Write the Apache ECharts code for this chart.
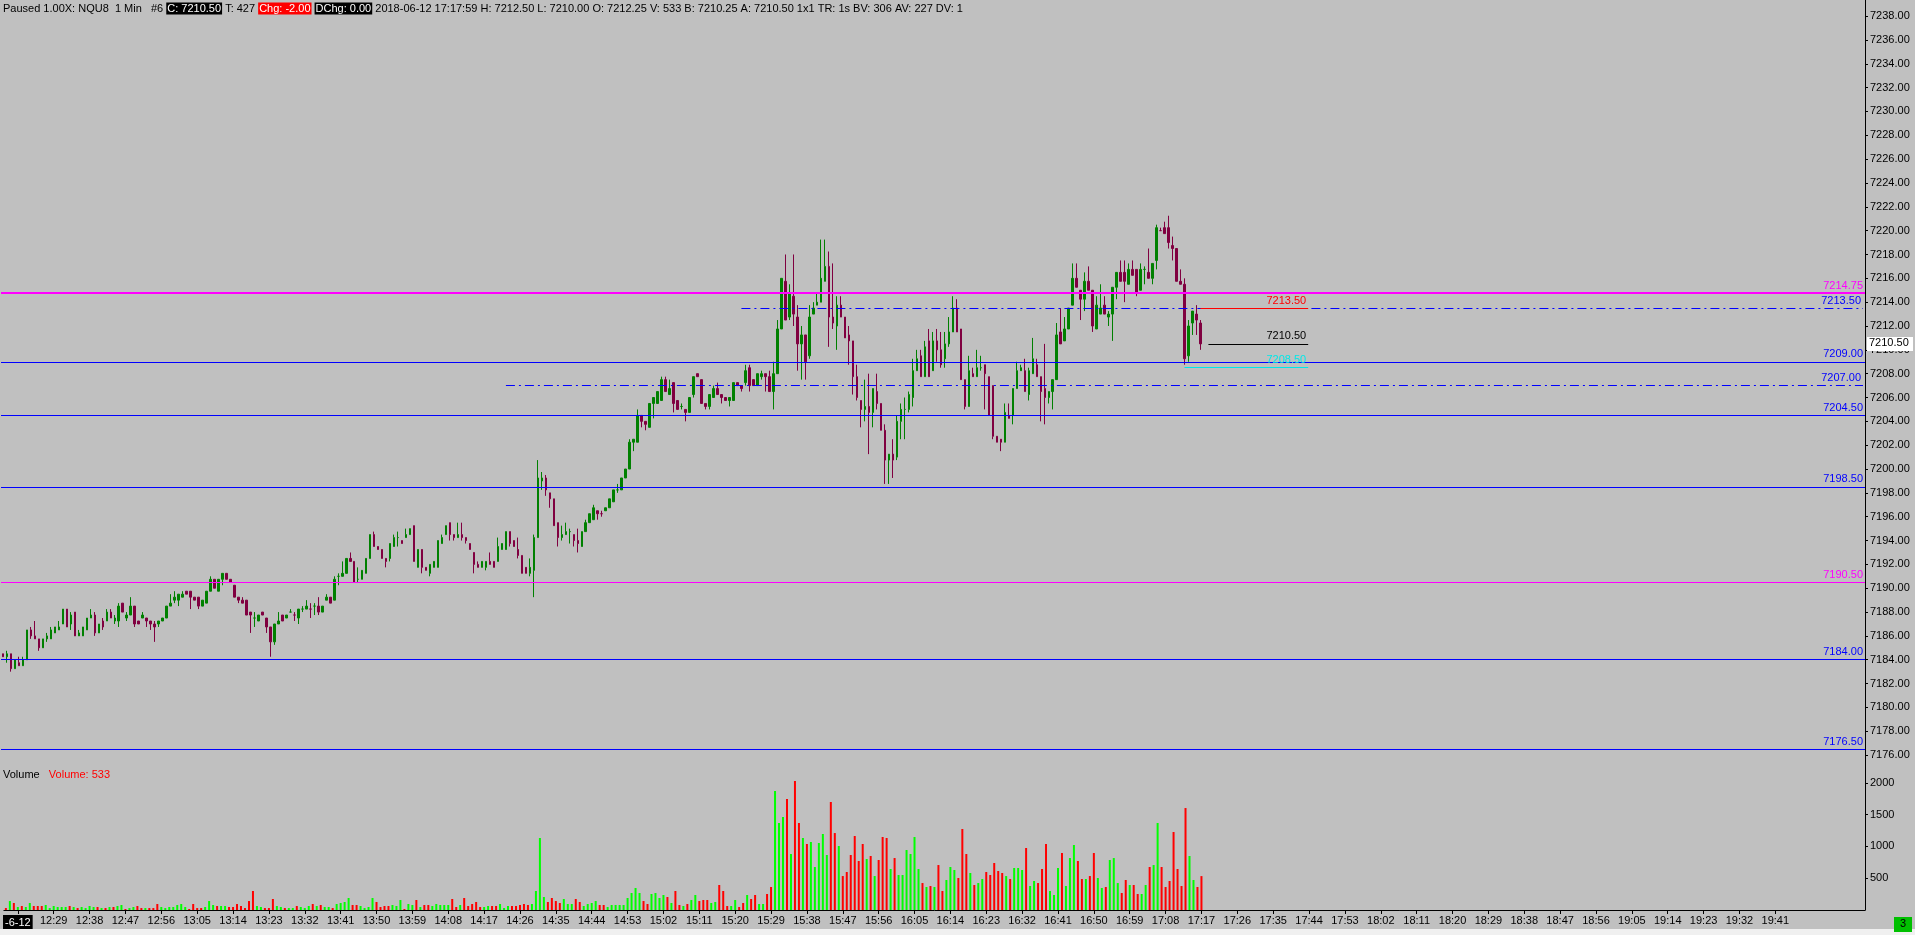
<!DOCTYPE html>
<html><head><meta charset="utf-8">
<script src="https://cdn.jsdelivr.net/npm/echarts@6/dist/echarts.min.js"></script>
<style>html,body{margin:0;padding:0;background:#c0c0c0;overflow:hidden}#c{width:1915px;height:935px}</style>
</head><body><div id="c"></div><script>
// ---------- DATA ----------
const firstBar = '12:17';
const slotCount = 467;
const opens = [
7184.5,7184.25,7184.5,7183.25,7183.75,7183.5,7184.0,7186.5,7186.0,7185.75,
7185.0,7185.75,7185.75,7186.25,7186.5,7187.0,7188.25,7187.0,7188.0,7186.0,
7186.0,7186.5,7187.5,7187.75,7186.25,7187.25,7187.25,7188.0,7187.25,7187.25,
7188.75,7187.5,7187.75,7188.5,7187.25,7187.5,7187.5,7187.25,7187.0,7187.0,
7187.25,7187.5,7188.5,7189.0,7189.0,7189.25,7189.75,7189.75,7189.25,7189.25,
7188.5,7188.75,7189.75,7190.75,7189.75,7190.75,7191.25,7190.75,7190.25,7189.25,
7189.0,7189.0,7188.0,7187.5,7187.25,7188.0,7187.5,7186.75,7185.5,7187.0,
7187.75,7187.5,7188.0,7187.75,7187.5,7188.25,7188.25,7188.25,7188.5,7188.5,
7188.0,7189.0,7189.25,7189.0,7191.0,7191.0,7191.25,7192.5,7192.25,7190.75,
7190.75,7191.25,7192.5,7194.5,7193.5,7193.25,7192.5,7192.5,7193.5,7194.25,
7194.0,7194.25,7194.5,7195.25,7191.75,7193.25,7191.75,7191.25,7191.75,7191.75,
7193.75,7194.5,7195.5,7194.5,7194.25,7194.5,7194.25,7193.75,7193.0,7192.0,
7191.75,7191.75,7192.25,7192.25,7192.25,7193.25,7193.25,7194.75,7194.0,7193.25,
7192.75,7191.75,7191.25,7191.5,7194.25,7199.0,7199.25,7198.0,7197.5,7195.5,
7194.25,7194.5,7194.75,7194.5,7194.0,7193.5,7194.75,7195.5,7195.75,7196.5,
7196.25,7196.5,7196.75,7197.25,7198.25,7198.25,7199.25,7200.0,7202.25,7202.25,
7204.5,7204.0,7203.5,7205.5,7205.5,7205.75,7207.5,7206.25,7207.25,7205.75,
7205.25,7205.0,7204.75,7206.25,7208.0,7207.5,7205.5,7205.25,7206.0,7206.75,
7206.25,7206.0,7205.75,7205.75,7207.25,7207.0,7207.25,7208.5,7207.5,7207.0,
7207.75,7208.0,7207.75,7206.5,7208.0,7211.75,7215.75,7212.75,7214.5,7212.75,
7210.5,7211.25,7209.5,7213.0,7213.75,7214.0,7215.75,7217.0,7212.75,7212.0,
7213.75,7212.75,7211.25,7210.75,7207.75,7205.75,7205.0,7205.25,7204.75,7206.5,
7205.5,7203.25,7200.75,7201.25,7201.0,7204.0,7205.0,7205.0,7206.0,7208.25,
7209.5,7207.75,7210.75,7208.25,7210.75,7210.0,7209.25,7210.5,7211.5,7213.5,
7211.75,7207.5,7205.25,7208.0,7207.75,7208.5,7208.75,7207.75,7207.0,7202.75,
7202.5,7202.25,7204.5,7204.5,7206.75,7208.25,7208.25,7206.25,7208.0,7208.75,
7207.75,7206.75,7206.0,7206.5,7207.5,7211.5,7210.75,7211.75,7213.75,7216.0,
7215.0,7214.25,7215.75,7215.0,7211.75,7213.0,7213.75,7212.75,7213.0,7215.25,
7216.5,7216.5,7215.5,7216.75,7216.75,7215.0,7216.75,7216.5,7216.0,7217.5,
7220.0,7220.25,7220.25,7218.75,7218.5,7215.75,7215.5,7209.5,7212.25,7213.0,
7212.25];
const closes = [
7184.25,7184.5,7183.25,7184.0,7183.5,7184.0,7186.5,7186.0,7185.75,7185.0,
7185.75,7186.0,7186.5,7186.75,7186.75,7188.25,7186.75,7187.75,7186.0,7186.25,
7186.75,7187.5,7187.75,7186.25,7187.0,7186.75,7188.0,7187.5,7187.5,7188.5,
7188.0,7187.75,7188.5,7187.0,7187.0,7187.75,7187.25,7187.0,7186.75,7187.25,
7187.5,7188.5,7188.75,7189.25,7189.5,7189.5,7189.5,7189.25,7189.0,7188.5,
7189.0,7189.75,7190.75,7190.0,7190.75,7191.25,7190.75,7190.5,7189.25,7189.0,
7188.75,7187.75,7187.75,7187.5,7187.75,7187.75,7186.75,7185.5,7187.0,7187.25,
7187.25,7187.75,7188.0,7187.75,7188.25,7188.25,7188.5,7188.25,7188.5,7188.0,
7188.5,7189.25,7188.75,7190.75,7191.0,7191.25,7192.5,7192.25,7190.5,7190.75,
7191.5,7192.5,7194.5,7193.5,7193.25,7192.5,7192.25,7193.75,7194.25,7194.25,
7193.75,7194.5,7195.0,7192.25,7193.25,7191.75,7191.5,7192.0,7192.25,7194.0,
7194.25,7195.25,7194.5,7194.25,7194.5,7194.25,7194.0,7193.25,7192.0,7191.75,
7192.25,7192.25,7192.0,7191.75,7193.5,7193.75,7194.75,7193.75,7193.5,7192.75,
7191.25,7191.25,7191.75,7194.25,7199.25,7199.25,7198.25,7197.5,7195.25,7194.25,
7194.5,7194.75,7194.75,7194.0,7193.75,7194.75,7195.5,7196.25,7196.75,7196.25,
7196.25,7196.75,7197.5,7198.25,7198.25,7199.25,7200.0,7202.25,7202.5,7204.5,
7204.0,7203.75,7205.5,7206.0,7206.5,7207.5,7206.5,7206.75,7205.5,7205.0,
7205.25,7204.75,7206.0,7207.75,7207.75,7205.5,7205.25,7206.25,7206.75,7206.25,
7206.0,7205.75,7206.0,7207.25,7207.0,7206.75,7208.25,7207.0,7207.0,7208.0,
7208.0,7207.75,7206.5,7208.0,7211.75,7216.0,7212.5,7214.75,7213.0,7210.5,
7211.25,7209.0,7212.75,7213.5,7214.0,7216.0,7217.0,7212.75,7212.25,7213.75,
7212.75,7211.0,7210.75,7207.75,7206.0,7205.0,7205.25,7204.75,7206.75,7205.5,
7203.25,7200.75,7201.25,7200.75,7204.0,7205.0,7205.0,7206.25,7208.25,7209.25,
7207.75,7210.25,7207.75,7210.75,7210.0,7208.75,7210.5,7211.5,7213.5,7211.5,
7207.5,7205.25,7208.25,7207.75,7208.5,7208.5,7208.0,7204.5,7202.75,7202.25,
7202.25,7204.75,7204.25,7206.75,7208.25,7208.5,7206.5,7208.25,7209.25,7207.75,
7206.5,7206.0,7206.5,7207.5,7211.25,7210.5,7211.75,7213.5,7216.0,7215.25,
7214.25,7215.75,7215.0,7212.0,7213.75,7213.5,7213.0,7213.0,7215.25,7216.5,
7215.75,7215.75,7216.75,7216.25,7214.75,7216.75,7216.75,7216.0,7217.25,7220.25,
7220.0,7219.75,7219.0,7218.5,7215.75,7215.5,7209.25,7212.0,7213.25,7212.5,
7210.5];
const lows = [
7184.25,7183.75,7183.0,7183.25,7183.5,7183.5,7184.0,7185.75,7185.75,7184.75,
7185.0,7185.5,7185.75,7186.25,7186.5,7187.0,7186.75,7186.5,7186.0,7186.0,
7186.0,7186.5,7187.5,7186.0,7186.25,7186.5,7187.25,7187.5,7187.0,7186.75,
7188.0,7187.25,7187.75,7186.75,7187.0,7187.5,7186.75,7186.5,7185.5,7186.75,
7187.25,7187.5,7188.5,7188.75,7188.5,7189.25,7189.5,7188.25,7189.0,7188.25,
7188.5,7188.75,7189.75,7190.0,7189.75,7190.25,7190.75,7190.5,7189.25,7188.75,
7188.75,7187.75,7186.25,7186.75,7187.25,7187.75,7186.25,7184.25,7185.25,7187.0,
7187.25,7187.5,7188.0,7187.25,7187.0,7188.0,7188.25,7187.5,7187.75,7187.75,
7188.0,7189.0,7188.75,7189.0,7190.25,7191.0,7191.25,7192.25,7190.5,7190.5,
7190.75,7191.25,7192.5,7193.5,7193.25,7192.5,7191.75,7192.25,7193.5,7193.5,
7193.75,7194.25,7194.5,7192.25,7191.75,7191.25,7191.5,7191.0,7191.75,7191.75,
7193.75,7194.5,7194.0,7194.0,7194.25,7194.0,7193.75,7193.25,7191.25,7191.75,
7191.75,7191.5,7192.0,7191.75,7192.25,7193.25,7193.25,7193.5,7193.5,7192.5,
7191.25,7191.25,7191.0,7189.25,7194.25,7198.25,7197.75,7196.75,7195.25,7193.5,
7194.0,7194.5,7193.75,7193.5,7193.0,7193.5,7194.75,7195.5,7195.75,7195.75,
7196.0,7196.5,7196.75,7197.25,7198.0,7198.25,7199.25,7200.0,7201.5,7202.25,
7203.5,7203.25,7203.5,7204.25,7205.5,7205.75,7206.5,7206.25,7204.75,7205.0,
7205.0,7204.0,7204.75,7206.0,7207.75,7205.5,7205.0,7205.0,7206.0,7206.25,
7205.5,7205.75,7205.25,7205.75,7207.0,7206.5,7207.0,7206.5,7207.0,7207.0,
7207.5,7206.5,7206.5,7205.0,7208.0,7211.75,7212.5,7212.5,7212.0,7208.25,
7207.5,7207.5,7209.25,7213.0,7213.75,7214.0,7215.75,7210.25,7211.75,7210.0,
7212.75,7211.0,7208.75,7206.25,7205.75,7203.5,7204.0,7201.25,7203.5,7205.0,
7203.25,7198.75,7198.75,7199.25,7200.75,7202.5,7202.5,7204.75,7205.25,7208.25,
7207.75,7207.75,7207.75,7208.25,7209.0,7208.5,7208.5,7210.25,7211.5,7211.5,
7207.5,7205.0,7205.25,7207.75,7207.75,7208.25,7205.0,7204.5,7202.5,7202.25,
7201.5,7202.25,7204.25,7203.75,7206.75,7208.25,7206.5,7205.75,7208.0,7207.75,
7204.0,7203.75,7205.5,7205.0,7207.5,7210.5,7210.75,7211.75,7213.75,7215.25,
7212.5,7213.25,7215.0,7211.5,7211.75,7213.0,7213.0,7212.0,7210.75,7214.25,
7215.75,7214.0,7215.5,7216.25,7214.5,7215.0,7215.5,7216.0,7215.5,7216.75,
7220.0,7219.75,7218.5,7217.5,7215.75,7215.5,7208.75,7209.0,7211.25,7211.25,
7210.0];
const highs = [
7184.5,7184.75,7184.5,7184.0,7184.25,7184.25,7186.5,7186.75,7187.25,7185.75,
7185.75,7186.25,7186.75,7186.75,7187.25,7188.25,7188.25,7188.0,7188.0,7186.5,
7186.75,7187.5,7188.25,7188.0,7187.0,7187.5,7188.25,7188.25,7187.75,7188.75,
7188.75,7188.0,7189.25,7188.5,7187.25,7188.0,7187.5,7187.25,7187.25,7187.25,
7187.5,7188.5,7189.5,7189.75,7189.5,7189.75,7189.75,7189.75,7189.25,7189.25,
7189.0,7189.75,7191.0,7190.75,7190.75,7191.25,7191.25,7190.75,7190.25,7189.25,
7189.25,7189.0,7188.0,7188.0,7187.75,7188.0,7187.5,7186.75,7187.0,7188.0,
7187.75,7187.75,7188.25,7188.0,7188.25,7188.5,7189.0,7188.75,7188.75,7189.25,
7188.5,7189.5,7189.25,7191.0,7191.25,7192.25,7192.5,7193.0,7192.25,7191.75,
7191.5,7192.5,7194.5,7194.75,7193.5,7193.25,7192.5,7193.75,7194.5,7194.75,
7194.0,7195.0,7195.0,7195.25,7193.25,7193.25,7191.75,7192.0,7192.25,7194.0,
7194.5,7195.25,7195.5,7194.5,7195.5,7195.5,7194.25,7193.75,7193.0,7192.25,
7192.25,7192.25,7193.0,7192.25,7194.25,7193.75,7194.75,7194.75,7194.0,7194.25,
7192.75,7191.75,7192.5,7194.5,7200.75,7199.75,7199.5,7198.0,7197.5,7195.5,
7195.25,7195.5,7195.0,7194.5,7195.0,7194.75,7195.75,7196.25,7197.0,7196.5,
7196.5,7196.75,7197.5,7198.25,7198.75,7199.25,7200.0,7202.5,7202.5,7205.0,
7204.5,7204.0,7205.5,7206.0,7206.5,7207.75,7207.75,7207.5,7207.25,7205.75,
7205.5,7205.0,7206.0,7207.75,7208.0,7207.5,7205.5,7206.25,7207.0,7207.25,
7206.25,7206.0,7206.0,7207.25,7207.25,7207.0,7208.75,7208.75,7207.5,7208.0,
7208.25,7208.0,7208.25,7209.0,7212.5,7216.0,7218.0,7215.5,7218.0,7213.75,
7212.0,7211.25,7213.75,7214.0,7214.75,7219.25,7219.25,7218.25,7217.25,7214.5,
7214.5,7212.75,7212.0,7210.75,7208.75,7205.75,7207.5,7208.0,7206.75,7208.0,
7205.5,7203.75,7201.25,7202.5,7204.5,7205.5,7206.0,7206.5,7209.25,7210.0,
7210.0,7210.75,7211.75,7211.5,7211.75,7211.5,7211.5,7212.75,7214.5,7214.25,
7211.75,7207.5,7209.5,7208.5,7210.0,7209.5,7208.75,7207.75,7207.0,7202.75,
7202.5,7205.5,7205.5,7206.75,7209.0,7208.75,7209.25,7208.5,7211.0,7209.25,
7207.75,7210.5,7206.5,7207.5,7212.25,7213.5,7212.75,7213.5,7217.25,7217.25,
7215.0,7216.5,7217.0,7215.0,7214.5,7215.5,7214.5,7213.25,7215.25,7216.5,
7217.5,7217.5,7217.25,7217.5,7216.75,7217.25,7217.0,7218.5,7217.25,7220.5,
7220.25,7220.75,7221.25,7219.5,7218.5,7216.75,7216.0,7212.5,7213.25,7213.75,
7212.5];
const volumes = [
31,141,110,47,63,47,110,63,63,63,
79,31,63,47,47,47,63,47,31,47,
31,63,47,47,31,31,47,47,63,79,
16,31,47,63,31,31,31,31,94,47,
31,47,47,79,94,47,16,94,31,31,
47,141,79,63,63,63,47,47,94,63,
31,141,299,63,47,31,31,173,63,47,
31,31,31,63,47,31,63,94,63,79,
47,47,31,94,110,126,189,79,79,63,
31,47,189,126,47,63,63,79,63,157,
16,94,79,157,47,79,79,63,94,79,
79,79,173,47,79,189,63,94,126,47,
47,63,63,63,94,31,63,63,63,79,
94,79,94,299,1132,204,126,189,141,110,
173,94,94,173,126,63,94,110,141,79,
79,47,79,79,79,79,189,267,346,267,
141,94,252,267,189,236,204,110,299,79,
63,94,157,236,141,157,157,110,126,393,
299,63,63,157,47,110,236,173,236,94,
94,252,362,1871,1368,1462,1745,880,2028,1368,
1132,1038,1069,676,1053,1195,865,1698,1210,1006,
534,597,865,1163,770,1038,802,849,534,786,
1148,1132,645,817,550,550,943,880,1148,645,
424,362,377,362,707,299,472,676,629,503,
1273,880,582,393,424,487,597,550,739,613,
582,534,487,660,660,629,975,377,456,424,
645,1038,299,236,660,896,377,817,1022,770,
487,487,534,896,503,346,362,786,817,424,
267,472,393,393,252,252,393,676,707,1368,
676,362,456,1226,645,377,1603,849,472,362,
533];
// bar direction (u = up / green, d = down / red) as coloured in the picture
const directions =
"dududuuddd"+"uuuuuududu"+"uuudududuu"+"duuddudddu"+"uuuuuudddd"+
"uuuduudddd"+"ddduuddduu"+"duuduuudud"+"uuduuuuddu"+"uuudddduuu"+
"duududduuu"+"uudduddddd"+"uudduuuddd"+"dduuuudddd"+"uuudduuuud"+
"duuuuuuuuu"+"dduuuududd"+"uduuddduud"+"dduudduddu"+"udduuududd"+
"uduuuuuddu"+"ddddddudud"+"dduduuuuuu"+"dududduuud"+"dduduudddd"+
"duduuuduud"+"dduuuduuud"+"dudduuduuu"+"ddudduuduu"+"ddddddduud"+"d";
const timeTicks = ['12:20','12:29','12:38','12:47','12:56','13:05','13:14','13:23','13:32','13:41','13:50','13:59',
'14:08','14:17','14:26','14:35','14:44','14:53','15:02','15:11','15:20','15:29','15:38','15:47','15:56','16:05',
'16:14','16:23','16:32','16:41','16:50','16:59','17:08','17:17','17:26','17:35','17:44','17:53','18:02','18:11',
'18:20','18:29','18:38','18:47','18:56','19:05','19:14','19:23','19:32','19:41'];
const dateTick = '12:20', dateLabel = '-6-12';
const priceTicks = [];
for (let v = 7176; v <= 7238; v += 2) priceTicks.push(v);
const volumeTicks = [500, 1000, 1500, 2000];
const solidLevels = [7214.75, 7209.00, 7204.50, 7198.50, 7190.50, 7184.00, 7176.50];
const dashLevels = [7213.50, 7207.00];
const dashStarts = ['15:22', '14:23'];
const shortLevels = [7213.50, 7210.50, 7208.50];
const shortStarts = ['17:17', '17:19', '17:13'];
const shortEnd = '17:44';
const lastPrice = 7210.50;
const headerParts = ['Paused 1.00X: NQU8  1 Min   #6 ', 'C: 7210.50', ' T: 427 ', 'Chg: -2.00', ' ', 'DChg: 0.00',
 ' 2018-06-12 17:17:59 H: 7212.50 L: 7210.00 O: 7212.25 V: 533 B: 7210.25 A: 7210.50 1x1 TR: 1s BV: 306 AV: 227 DV: 1'];
const volumeTitle = ['Volume', 'Volume: 533'];

// ---------- BUILD ----------
const categories = [];
const [h0, m0] = firstBar.split(':').map(Number);
for (let i = 0; i < slotCount; i++) {
  const t = h0 * 60 + m0 + i;
  categories.push(String(Math.floor(t / 60)).padStart(2, '0') + ':' + String(t % 60).padStart(2, '0'));
}
const UP = '#008000', DOWN = '#800040', VUP = '#00ff00', VDOWN = '#ff0000';
const candleData = opens.map((o, i) => {
  const c = directions[i] === 'u' ? UP : DOWN;
  return { value: [o, closes[i], lows[i], highs[i]],
    itemStyle: { color: c, color0: c, borderColor: c, borderColor0: c } };
});
const volData = volumes.map((v, i) => ({ value: v, itemStyle: { color: directions[i] === 'u' ? VUP : VDOWN } }));

const FONT = 'Liberation Sans, Arial, sans-serif';
const BLUE = '#0000ff', MAG = '#ff00ff';
function lvlLabel(color, v) {
  const txt = v.toFixed(2);
  return { show: true, position: 'insideEndTop', distance: 2, color: color, fontSize: 11, fontFamily: FONT,
    formatter: () => txt };
}
const markData = [];
solidLevels.forEach(v => {
  const col = (v === 7214.75 || v === 7190.50) ? MAG : BLUE;
  markData.push({ yAxis: v, lineStyle: { color: col, width: v === 7214.75 ? 2 : 1, type: 'solid' }, label: lvlLabel(col, v) });
});
dashLevels.forEach((v, k) => {
  markData.push([
    { coord: [dashStarts[k], v], lineStyle: { color: BLUE, width: 1, type: [9, 4, 2, 4] }, label: lvlLabel(BLUE, v) },
    { coord: [categories[slotCount - 1], v] }
  ]);
});
const shortColors = ['#ff0000', '#000000', '#00e8e8'];
shortLevels.forEach((v, k) => {
  markData.push([
    { coord: [shortStarts[k], v], lineStyle: { color: shortColors[k], width: 1, type: 'solid' }, label: lvlLabel(shortColors[k], v) },
    { coord: [shortEnd, v] }
  ]);
});

const chart = echarts.init(document.getElementById('c'), null, { renderer: 'canvas' });
const tickShow = (idx, val) => timeTicks.indexOf(val) >= 0;
const option = {
  animation: false,
  backgroundColor: '#c0c0c0',
  title: [
    { left: 3, top: 1, padding: 0,
      text: '{a|' + headerParts[0] + '}{k|' + headerParts[1] + '}{a|' + headerParts[2] + '}{r|' + headerParts[3] + '}{a|' + headerParts[4] + '}{k|' + headerParts[5] + '}{a|' + headerParts[6] + '}',
      textStyle: { fontSize: 11, fontFamily: FONT, fontWeight: 'normal', rich: {
        a: { color: '#000', fontSize: 11, fontFamily: FONT, fontWeight: 'normal', lineHeight: 15, padding: [1, 0, 0, 0] },
        k: { color: '#fff', backgroundColor: '#000', fontSize: 11, fontFamily: FONT, fontWeight: 'normal', lineHeight: 15, padding: [1, 1, 0, 1] },
        r: { color: '#fff', backgroundColor: '#ff0000', fontSize: 11, fontFamily: FONT, fontWeight: 'normal', lineHeight: 15, padding: [1, 1, 0, 1] }
      } } },
    { left: 3, top: 769, padding: 0,
      text: '{a|' + volumeTitle[0] + '}   {r|' + volumeTitle[1] + '}',
      textStyle: { fontWeight: 'normal', fontSize: 11, rich: {
        a: { color: '#000', fontSize: 11, fontFamily: FONT, fontWeight: 'normal' },
        r: { color: '#ff0000', fontSize: 11, fontFamily: FONT, fontWeight: 'normal' }
      } } }
  ],
  grid: [
    { left: 1, right: 50, top: 0, height: 770 },
    { left: 1, right: 50, top: 770, height: 140 }
  ],
  xAxis: [
    { type: 'category', gridIndex: 0, data: categories, boundaryGap: true, show: false },
    { type: 'category', gridIndex: 1, data: categories, boundaryGap: true,
      axisLine: { lineStyle: { color: '#000', width: 1 } },
      axisTick: { show: true, alignWithLabel: true, interval: tickShow, length: 4, lineStyle: { color: '#000' } },
      axisLabel: { interval: tickShow, color: '#000', fontSize: 11, fontFamily: FONT, margin: 5,
        formatter: v => v === dateTick ? '{d|' + dateLabel + '}' : v,
        rich: { d: { color: '#fff', backgroundColor: '#000', fontSize: 11, fontFamily: FONT, padding: [2, 2, 1, 2] } } },
      splitLine: { show: false } }
  ],
  yAxis: [
    { type: 'value', gridIndex: 0, position: 'right', min: 7174.75, max: 7239.35, scale: true,
      axisLine: { show: true, lineStyle: { color: '#000', width: 1 } },
      axisTick: { show: true, length: 3, customValues: priceTicks, lineStyle: { color: '#000' } },
      axisLabel: { customValues: priceTicks, color: '#000', fontSize: 11, fontFamily: FONT, margin: 5,
        formatter: v => Number(v).toFixed(2) },
      splitLine: { show: false } },
    { type: 'value', gridIndex: 1, position: 'right', min: 0, max: 2201,
      axisLine: { show: true, lineStyle: { color: '#000', width: 1 } },
      axisTick: { show: true, length: 3, customValues: volumeTicks, lineStyle: { color: '#000' } },
      axisLabel: { customValues: volumeTicks, color: '#000', fontSize: 11, fontFamily: FONT, margin: 5,
        formatter: v => String(Math.round(v)) },
      splitLine: { show: false } }
  ],
  series: [
    { type: 'candlestick', xAxisIndex: 0, yAxisIndex: 0, data: candleData, barWidth: 2,
      itemStyle: { borderWidth: 1, color: UP, color0: DOWN, borderColor: UP, borderColor0: DOWN },
      markLine: { silent: true, symbol: ['none', 'none'], animation: false, data: markData } },
    { type: 'bar', xAxisIndex: 1, yAxisIndex: 1, data: volData, barWidth: 2 }
  ]
};
chart.setOption(option);
const py = chart.convertToPixel({ yAxisIndex: 0 }, lastPrice);
chart.setOption({ graphic: [
  { type: 'rect', left: 1867, top: py - 7, shape: { width: 46, height: 14 }, style: { fill: '#fff' }, z: 100 },
  { type: 'text', left: 1869, top: py - 6, style: { text: lastPrice.toFixed(2), fill: '#000', font: '11px ' + FONT }, z: 101 },
  { type: 'rect', left: 0, top: 929, shape: { width: 1915, height: 6 }, style: { fill: '#f0f0f0' }, z: 90 },
  { type: 'rect', left: 1894, top: 917, shape: { width: 18, height: 15 }, style: { fill: '#00c000' }, z: 100 },
  { type: 'text', left: 1900, top: 918, style: { text: '3', fill: '#000', font: '11px ' + FONT }, z: 101 }
] });
</script></body></html>
